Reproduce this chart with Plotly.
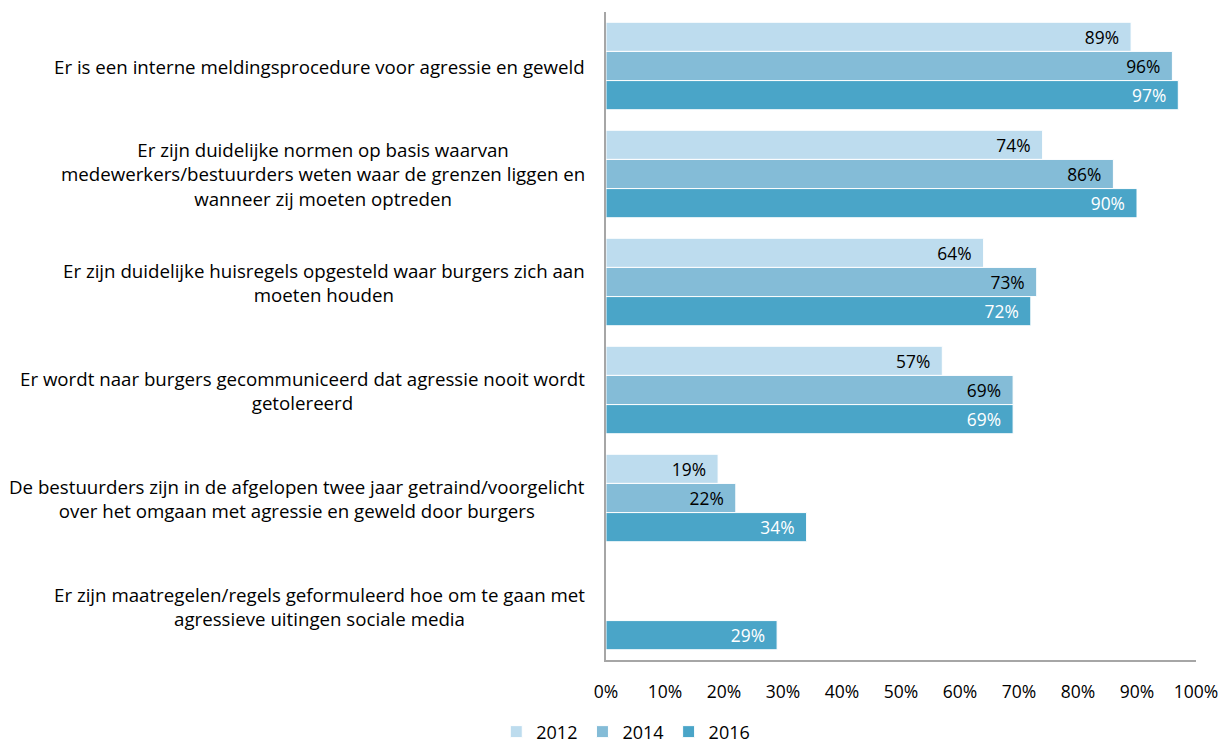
import plotly.graph_objects as go

categories = [
    "Er is een interne meldingsprocedure voor agressie en geweld",
    "Er zijn duidelijke normen op basis waarvan<br>medewerkers/bestuurders weten waar de grenzen liggen en<br>wanneer zij moeten optreden",
    "Er zijn duidelijke huisregels opgesteld waar burgers zich aan<br>moeten houden",
    "Er wordt naar burgers gecommuniceerd dat agressie nooit wordt<br>getolereerd",
    "De bestuurders zijn in de afgelopen twee jaar getraind/voorgelicht<br>over het omgaan met agressie en geweld door burgers",
    "Er zijn maatregelen/regels geformuleerd hoe om te gaan met<br>agressieve uitingen sociale media",
]
years = ["2012", "2014", "2016"]
v2012 = [89, 74, 64, 57, 19, None]
v2014 = [96, 86, 73, 69, 22, None]
v2016 = [97, 90, 72, 69, 34, 29]
colors = ["#BDDCEE", "#84BCD7", "#4AA5C8"]
text_colors = ["#000000", "#000000", "#FFFFFF"]
xticks = [0, 10, 20, 30, 40, 50, 60, 70, 80, 90, 100]

FONT = "Open Sans, sans-serif"
FS = 18
ids = list(range(len(categories)))
PAD = "\u00a0\u00a0"

fig = go.Figure()
for yr, vals, c, tc in zip(years, [v2012, v2014, v2016], colors, text_colors):
    fig.add_trace(go.Bar(
        name=yr, y=ids, x=vals, orientation="h",
        marker=dict(color=c, line=dict(color="white", width=1)),
        text=[f"{v}%{PAD}" if v is not None else "" for v in vals],
        textposition="inside", insidetextanchor="end",
        textfont=dict(color=tc, size=FS, family=FONT),
        cliponaxis=False, hoverinfo="skip",
    ))

for i, cat in enumerate(categories):
    fig.add_annotation(
        x=-0.032, xref="paper", y=i, yref="y", text=cat,
        xanchor="right", yanchor="middle", align="center",
        showarrow=False, font=dict(size=18.7, color="#000000", family=FONT),
    )

fig.update_layout(
    width=1227, height=746,
    margin=dict(l=606, r=31, t=12, b=86, autoexpand=False),
    plot_bgcolor="white", paper_bgcolor="white",
    barmode="group", bargap=0.19, bargroupgap=0.0,
    font=dict(family=FONT, size=FS, color="#000000"),
    showlegend=True,
    legend=dict(orientation="h", xref="container", yref="paper",
                x=0.51, xanchor="center", y=-0.111, yanchor="middle",
                font=dict(size=FS, family=FONT), traceorder="normal"),
)
fig.update_xaxes(
    range=[0, 100], tickvals=xticks, ticktext=[f"{t}%" for t in xticks],
    showgrid=False, zeroline=False, showline=True, linecolor="#A6A6A6", linewidth=2,
    ticks="", ticklabelstandoff=15, tickfont=dict(size=17.5, family=FONT),
)
fig.update_yaxes(
    autorange="reversed", showticklabels=False, showgrid=False, zeroline=False,
    showline=True, linecolor="#A6A6A6", linewidth=2, ticks="",
)
fig.write_html("out.html", config={"displayModeBar": False},
               post_script="document.body.style.margin='0';document.body.style.overflow='hidden';")
